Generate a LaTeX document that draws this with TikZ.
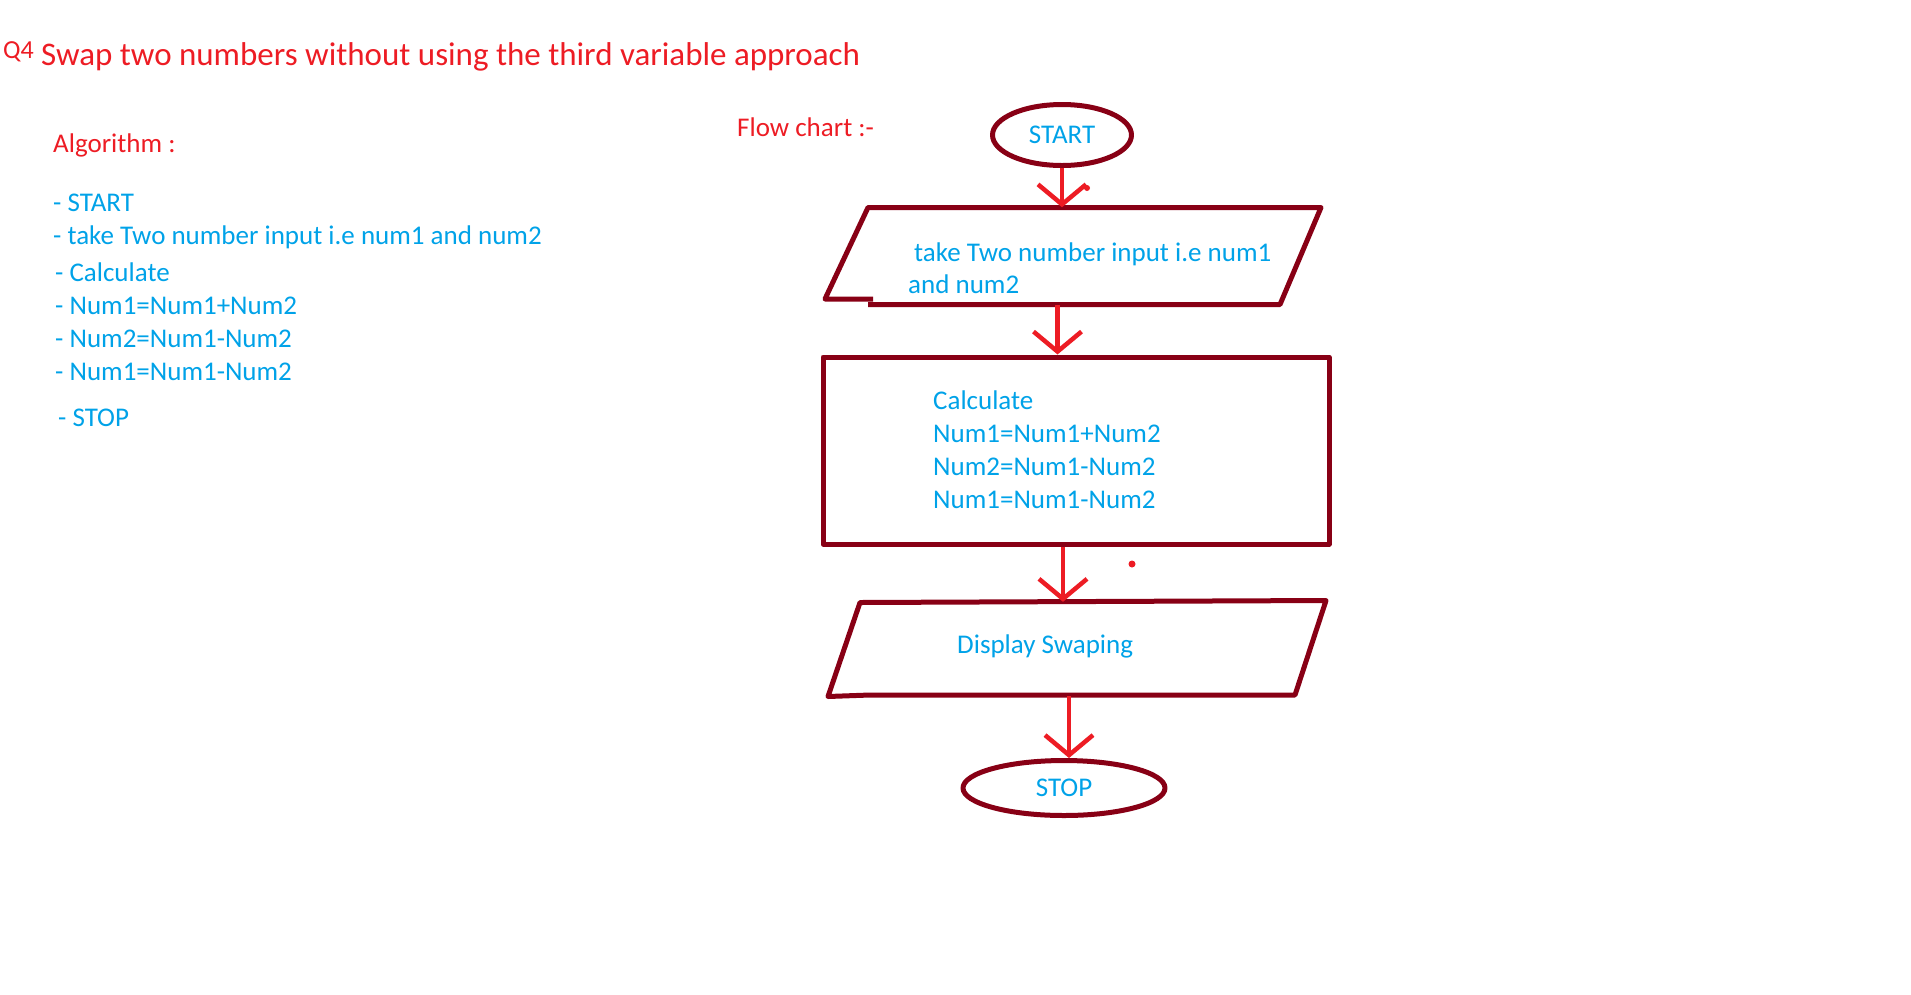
\documentclass[tikz,border=0pt]{standalone}
\usepackage{fontspec}
\setmainfont{Carlito}
\usetikzlibrary{shapes.geometric,arrows.meta}
\definecolor{pred}{HTML}{ED1C24}
\definecolor{pblue}{HTML}{00A2E8}
\definecolor{pdark}{HTML}{880015}
\begin{document}
\begin{tikzpicture}[x=1pt,y=-1pt,
  lbl/.style={inner sep=0pt, anchor=base west, text=pblue, font=\fontsize{27}{33}\selectfont},
  outline/.style={draw=pdark, line width=5pt, line join=round},
  shp/.style={outline, inner sep=0pt, text=pblue, font=\fontsize{27}{33}\selectfont},
  hold/.style={inner sep=0pt, rectangle},
  arr/.style={draw=pred, line width=4.5pt, -{Straight Barb[length=20pt,width=48pt]}}]
\useasboundingbox (0,0) rectangle (1911,994);
\node[lbl, text=pred, font=\fontsize{26}{30}\selectfont] (q0) at (3,58) {Q4};
\node[lbl, text=pred, font=\fontsize{33}{40}\selectfont] (q1) at (41,65) {Swap two numbers without using the third variable approach};
\node[lbl, text=pred] (al0) at (53,152) {Algorithm :};
\node[lbl] (al1) at (53,211) {- START};
\node[lbl] (al2) at (53,244) {- take Two number input i.e num1 and num2};
\node[lbl] (al3) at (55,281) {- Calculate};
\node[lbl] (al4) at (55,314) {- Num1=Num1+Num2};
\node[lbl] (al5) at (55,347) {- Num2=Num1-Num2};
\node[lbl] (al6) at (55,380) {- Num1=Num1-Num2};
\node[lbl] (al7) at (58,426) {- STOP};
\node[lbl, text=pred] (fl0) at (737,136) {Flow chart :-};
\node[shp, ellipse, minimum width=139pt, minimum height=61pt] (fc0) at (1062,135) {START};
\node[hold, minimum width=454pt, minimum height=97pt] (fc1) at (1073.5,256) {};
\draw[outline] (868,304.5) -- (1280,304.5) -- (1321,207.5) -- (868,207.5) -- (825,299) -- (873,299);
\node[lbl] (tx0) at (914,261) {take Two number input i.e num1};
\node[lbl] (tx1) at (908,293) {and num2};
\node[shp, rectangle, minimum width=506pt, minimum height=187pt] (fc2) at (1076,450.5) {};
\node[lbl] (tx2) at (933,409) {Calculate};
\node[lbl] (tx3) at (933,442) {Num1=Num1+Num2};
\node[lbl] (tx4) at (933,475) {Num2=Num1-Num2};
\node[lbl] (tx5) at (933,508) {Num1=Num1-Num2};
\node[hold, minimum width=466pt, minimum height=94pt] (fc3) at (1077,649) {};
\draw[outline] (860,602.5) -- (1326,600.5) -- (1295,695) -- (870,695) -- (828,696.5) -- cycle;
\node[lbl] (tx6) at (957,653) {Display Swaping};
\node[shp, ellipse, minimum width=202pt, minimum height=55pt] (fc4) at (1064,788) {STOP};
\draw[arr] (fc0.south) -- (fc0.south |- fc1.north);
\draw[arr] ([xshift=-16pt]fc1.south) -- ([xshift=-16pt]fc1.south |- fc2.north);
\draw[arr] ([xshift=-13pt]fc2.south) -- ([xshift=-13pt]fc2.south |- fc3.north);
\draw[arr] ([xshift=-8pt]fc3.south) -- ([xshift=-8pt]fc3.south |- fc4.north);
\fill[pred] (1087,188) circle (3pt);
\fill[pred] (1132,564) circle (3.5pt);
\end{tikzpicture}
\end{document}
